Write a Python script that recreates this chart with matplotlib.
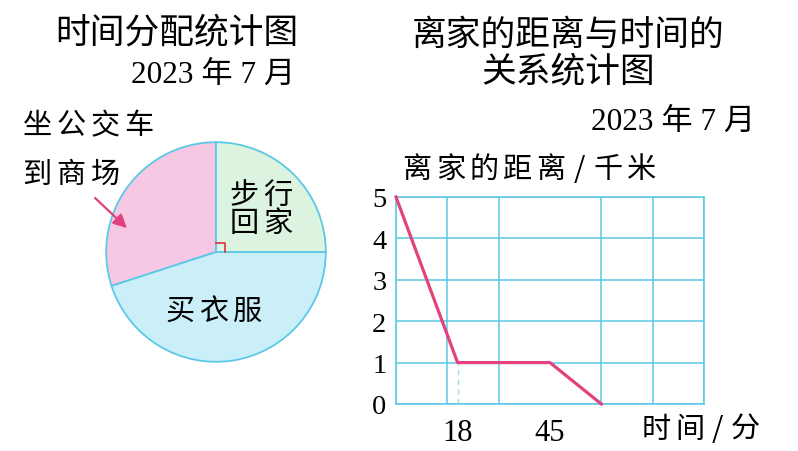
import numpy as np
import matplotlib.pyplot as plt
from matplotlib.patches import FancyArrowPatch

plt.rcParams['font.family'] = ['Noto Sans CJK SC', 'DejaVu Sans']

# pie data (percent of time)
pie_labels = ['坐公交车\n到商场', '买衣服', '步行\n回家']
pie_values = [30, 45, 25]
pie_colors = ['#f6c8e4', '#cbeff8', '#dcf3df']

# line data: minutes -> distance from home (km)
t_min = [0, 18, 45, 60]
dist_km = [5, 1, 1, 0]
x_ticks = [18, 45]
x_grid = np.arange(0, 91, 15)
y_ticks = [0, 1, 2, 3, 4, 5]

cyan = '#5cc8e6'
pink = '#e2437e'
serif_cjk = ['Liberation Serif', 'Noto Sans CJK SC']

W, H = 798, 452
fig = plt.figure(figsize=(W / 100, H / 100), dpi=100)


def fx(px):
    return px / W


def fy(py):
    return 1 - py / H


def spaced(x_left, y, text, size, pitch):
    # draw chars one by one with a fixed pitch (px), '/' gets a narrower slot
    x = x_left
    for ch in text:
        step = pitch * (0.7 if ch == '/' else 1.0)
        fig.text(fx(x + step / 2), fy(y), ch, fontsize=size, ha='center', va='center')
        x += step


# ---------------- pie ----------------
cx, cy, r = 216, 253, 112
axp = fig.add_axes([fx(cx - r), fy(cy + r), 2 * r / W, 2 * r / H])
wedges, _ = axp.pie(pie_values, colors=pie_colors, startangle=90,
                    counterclock=True,
                    wedgeprops=dict(edgecolor=cyan, linewidth=1.3))
axp.set_xlim(-1.02, 1.02)
axp.set_ylim(-1.02, 1.02)
axp.axis('off')
# right angle mark
s = 0.085
axp.plot([0, s, s], [s, s, 0], color='#e03040', lw=1.2)

fig.text(fx(177), fy(33), '时间分配统计图', fontsize=25, ha='center', va='center')
fig.text(fx(295), fy(75), '2023 年 7 月', fontsize=22.5, ha='right', va='center',
         family=serif_cjk)
spaced(20, 126, pie_labels[0].split('\n')[0], 21, 34)
spaced(20, 175, pie_labels[0].split('\n')[1], 21, 34)
spaced(228, 196, pie_labels[2].split('\n')[0], 21, 33)
spaced(228, 224, pie_labels[2].split('\n')[1], 21, 33)
spaced(163, 312, pie_labels[1], 21, 34)
fig.patches.append(FancyArrowPatch(
    (fx(93), fy(197)), (fx(129), fy(231)), transform=fig.transFigure,
    arrowstyle='-|>,head_length=8,head_width=4', color=pink, lw=1.6))

# ---------------- line chart ----------------
x0, x1, y0, y1 = 396, 704, 198, 405
axl = fig.add_axes([fx(x0), fy(y1), (x1 - x0) / W, (y1 - y0) / H])
axl.set_xlim(0, 90)
axl.set_ylim(0, 5)
axl.set_xticks(x_grid, minor=True)
axl.set_xticks(x_ticks)
axl.set_xticklabels([str(v) for v in x_ticks], family='Liberation Serif', fontsize=22)
axl.set_yticks(y_ticks)
axl.set_yticklabels([str(v) for v in y_ticks], family='Liberation Serif', fontsize=20.5)
axl.tick_params(which='both', length=0)
axl.tick_params(axis='x', pad=10)
axl.tick_params(axis='y', pad=7)
axl.grid(which='minor', axis='x', color=cyan, lw=1.1)
axl.grid(which='major', axis='y', color=cyan, lw=1.1)
axl.grid(which='major', axis='x', visible=False)
for sp in axl.spines.values():
    sp.set_color(cyan)
    sp.set_linewidth(1.1)
axl.plot([18, 18], [0, 1], ls=(0, (4, 3)), color='#9adcf0', lw=1)
axl.plot(t_min, dist_km, color=pink, lw=2.3, clip_on=False, zorder=3)

fig.text(fx(568), fy(35), '离家的距离与时间的', fontsize=25, ha='center', va='center')
fig.text(fx(568), fy(72), '关系统计图', fontsize=25, ha='center', va='center')
fig.text(fx(755), fy(122), '2023 年 7 月', fontsize=22.5, ha='right', va='center',
         family=serif_cjk)
spaced(400, 170, '离家的距离/千米', 21, 33.5)
spaced(640, 430, '时间/分', 21, 33)

fig.savefig('out.png', dpi=100)
